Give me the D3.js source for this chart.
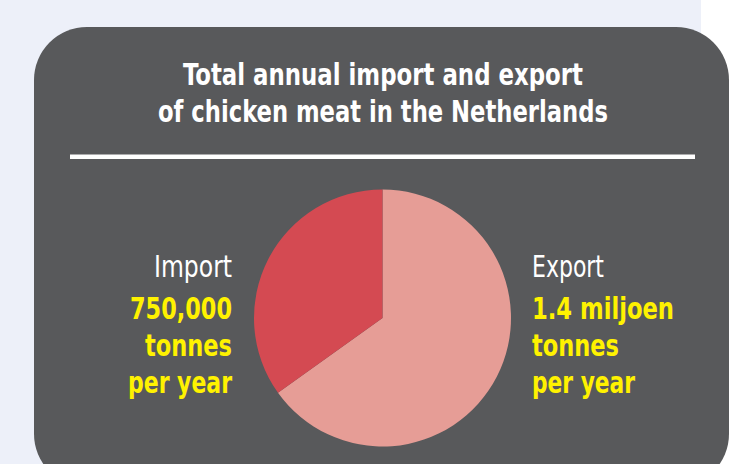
<!DOCTYPE html>
<html>
<head>
<meta charset="utf-8">
<script src="https://cdn.jsdelivr.net/npm/d3@7"></script>
<style>
  html, body { margin: 0; padding: 0; background: #ffffff; }
  svg { display: block; }
  text { font-family: "Liberation Sans Narrow", "DejaVu Sans Condensed", "Roboto", sans-serif; }
</style>
</head>
<body>
<svg id="chart" width="738" height="464"></svg>
<script>

// chart data
let categories = ["Export", "Import"];
let values = [1400000, 750000];
let value_labels = ["1.4 miljoen", "750,000"];
let unit_lines = ["tonnes", "per year"];
let title_lines = ["Total annual import and export", "of chicken meat in the Netherlands"];

let svg = d3.select("#chart");

// page background
svg.append("rect")
    .attr("x", 0).attr("y", 0)
    .attr("width", 701).attr("height", 464)
    .style("fill", "#edf0f9");

// dark panel
svg.append("rect")
    .attr("x", 34).attr("y", 27)
    .attr("width", 695).attr("height", 460)
    .attr("rx", 53).attr("ry", 53)
    .style("fill", "#58595b");

// title
let title_widths = [400, 450];
let title = svg.append("g").attr("class", "title");
title.selectAll("text")
    .data(title_lines)
    .enter().append("text")
    .attr("x", function(d, i) { return 383 - title_widths[i] / 2; })
    .attr("y", function(d, i) { return 85 + i * 36.5; })
    .attr("textLength", function(d, i) { return title_widths[i]; })
    .attr("lengthAdjust", "spacingAndGlyphs")
    .style("font-size", "30px")
    .style("font-weight", "bold")
    .style("fill", "#ffffff")
    .text(function(d) { return d; });

// rule under the title
svg.append("rect")
    .attr("x", 70).attr("y", 154.5)
    .attr("width", 625).attr("height", 4.5)
    .style("fill", "#ffffff");

// pie
let cx = 382.5, cy = 318, radius = 128.5;

let color = d3.scaleOrdinal()
    .domain(categories)
    .range(["#e69d96", "#d44a52"]);

let pie = d3.pie().sort(null);
let arc = d3.arc().innerRadius(0).outerRadius(radius);

let g = svg.append("g")
    .attr("transform", "translate(" + cx + "," + cy + ")");

g.selectAll("path")
    .data(pie(values))
    .enter().append("path")
    .attr("d", arc)
    .style("fill", function(d, i) { return color(categories[i]); });

// labels: import on the left (right aligned), export on the right
let label_widths = {
    "Import": [78, 102, 87, 104],
    "Export": [72, 142, 87, 103]
};

function draw_label(i, edge, align){
    let name = categories[i];
    let lines = [name, value_labels[i]].concat(unit_lines);
    let widths = label_widths[name];
    let lab = svg.append("g").attr("class", "label");
    lab.selectAll("text")
        .data(lines)
        .enter().append("text")
        .attr("x", function(d, k) { return align == "end" ? edge - widths[k] : edge; })
        .attr("y", function(d, k) { return k == 0 ? 276.7 : 319 + (k - 1) * 37; })
        .attr("textLength", function(d, k) { return widths[k]; })
        .attr("lengthAdjust", "spacingAndGlyphs")
        .style("font-size", function(d, k) { return k == 0 ? "30px" : "31px"; })
        .style("font-weight", function(d, k) { return k == 0 ? "normal" : "bold"; })
        .style("fill", function(d, k) { return k == 0 ? "#ffffff" : "#fff200"; })
        .text(function(d) { return d; });
};

draw_label(1, 232, "end");
draw_label(0, 532, "start");

</script>
</body>
</html>
